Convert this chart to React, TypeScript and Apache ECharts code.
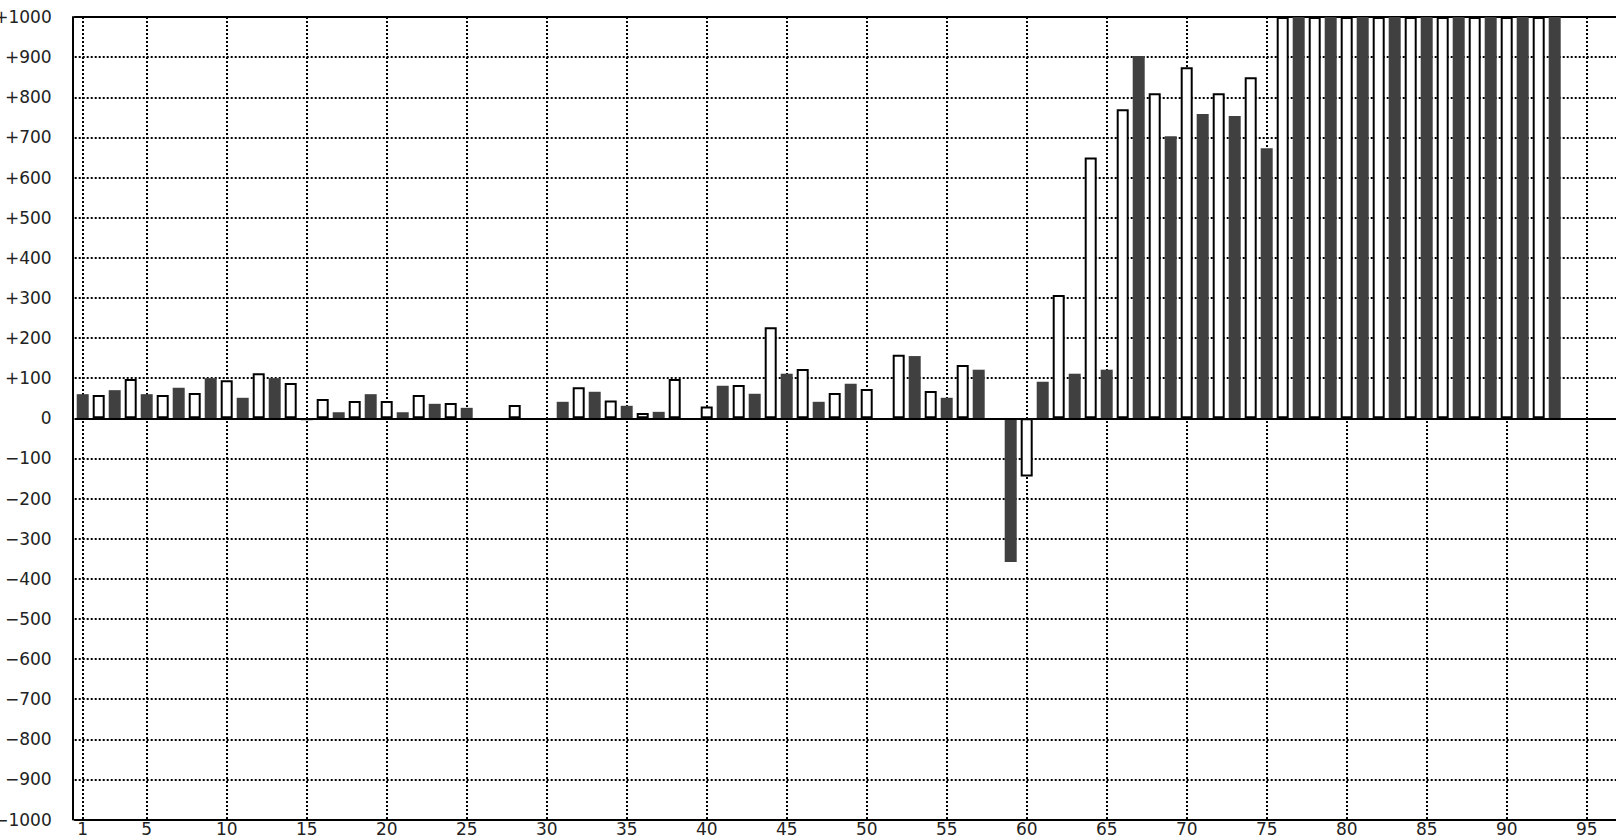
import React, { useEffect, useRef } from "react";
import * as echarts from "echarts";

// categories 1..97 (x axis)
const categories = [
  "1","2","3","4","5","6","7","8","9","10",
  "11","12","13","14","15","16","17","18","19","20",
  "21","22","23","24","25","26","27","28","29","30",
  "31","32","33","34","35","36","37","38","39","40",
  "41","42","43","44","45","46","47","48","49","50",
  "51","52","53","54","55","56","57","58","59","60",
  "61","62","63","64","65","66","67","68","69","70",
  "71","72","73","74","75","76","77","78","79","80",
  "81","82","83","84","85","86","87","88","89","90",
  "91","92","93","94","95","96","97",
];

// dark bars: odd categories 1,3,5,...,97
const darkValues = [
  60, 70, 60, 76, 100, 51, 100, -5, 15, 60,
  15, 36, 26, null, null, 41, 66, 31, 16, null,
  81, 61, 111, 41, 86, null, 155, 51, 121, -358,
  91, 111, 121, 903, 703, 758, 753, 673, 1000, 1000,
  1000, 1000, 1000, 1000, 1000, 1000, 1000, null, null,
];

// white bars: even categories 2,4,6,...,96
const whiteValues = [
  58, 98, 58, 63, 95, 112, 88, 48, 43, 43,
  58, 38, null, 33, null, 77, 44, 13, 98, 29,
  83, 227, 123, 63, 73, 158, 68, 133, null, -145,
  307, 650, 770, 810, 875, 810, 850, 1000, 1000, 1000,
  1000, 1000, 1000, 1000, 1000, 1000, null, null,
];

// category labels / vertical grid lines shown
const shownTicks = ["1", "5", "10", "15", "20", "25", "30", "35", "40", "45", "50",
  "55", "60", "65", "70", "75", "80", "85", "90", "95"];

const Y_MIN = -1000;
const Y_MAX = 1000;
const Y_STEP = 100;

export default function App() {
  const ref = useRef<HTMLDivElement>(null);

  useEffect(() => {
    if (!ref.current) return;
    const chart = echarts.init(ref.current, null, { renderer: "svg" });

    const darkFull = categories.map((c, i) => {
      const n = i + 1;
      if (n % 2 === 1) {
        const v = darkValues[(n - 1) / 2];
        return v === null || v === undefined ? "-" : v;
      }
      return "-";
    });
    const whiteFull = categories.map((c, i) => {
      const n = i + 1;
      if (n % 2 === 0) {
        const v = whiteValues[n / 2 - 1];
        return v === null || v === undefined ? "-" : v;
      }
      return "-";
    });

    const tickFilter = (_idx: number, val: string) => shownTicks.indexOf(String(val)) >= 0;
    const dotted = { color: "#000", width: 2, type: [2, 2] as any };
    const font = { fontFamily: "DejaVu Sans", fontSize: 17, color: "#222" };

    chart.setOption({
      animation: false,
      backgroundColor: "#fff",
      grid: {
        left: 74.7,
        right: -10.7,
        top: 17,
        bottom: 20.5,
        containLabel: false,
        outerBoundsMode: "none",
      },
      xAxis: [
        {
          type: "category",
          data: categories,
          position: "bottom",
          boundaryGap: true,
          axisLine: { show: true, onZero: false, lineStyle: { color: "#000", width: 2 } },
          axisTick: { show: false },
          axisLabel: { interval: tickFilter, margin: 1, hideOverlap: false, ...font },
          splitLine: { show: true, interval: tickFilter, alignWithLabel: true, lineStyle: dotted },
        },
        {
          type: "category",
          data: categories,
          position: "top",
          boundaryGap: true,
          axisLine: { show: true, onZero: false, lineStyle: { color: "#000", width: 2 } },
          axisTick: { show: false },
          axisLabel: { show: false },
          splitLine: { show: false },
        },
      ],
      yAxis: {
        type: "value",
        min: Y_MIN,
        max: Y_MAX,
        interval: Y_STEP,
        offset: 1.7,
        axisLine: { show: true, onZero: false, lineStyle: { color: "#000", width: 2 } },
        axisTick: { show: false },
        axisLabel: {
          margin: 21.3,
          hideOverlap: false,
          showMinLabel: true,
          showMaxLabel: true,
          ...font,
          formatter: (v: number) => (v > 0 ? "+" + v : v < 0 ? "\u2212" + Math.abs(v) : "0"),
        },
        splitLine: { show: true, lineStyle: dotted },
      },
      series: [
        {
          type: "bar",
          name: "dark",
          xAxisIndex: 0,
          data: darkFull,
          barWidth: 12,
          barGap: "-100%",
          itemStyle: { color: "#404040" },
        },
        {
          type: "bar",
          name: "white",
          xAxisIndex: 0,
          data: whiteFull,
          barWidth: 12,
          barGap: "-100%",
          itemStyle: { color: "#fff", borderColor: "#000", borderWidth: 2 },
          markLine: {
            silent: true,
            symbol: "none",
            label: { show: false },
            lineStyle: { color: "#000", width: 2, type: "solid" },
            data: [{ yAxis: 0 }],
          },
        },
      ],
    });

    return () => chart.dispose();
  }, []);

  return (
    <div
      ref={ref}
      style={{ position: "fixed", left: 0, top: 0, width: "1616px", height: "840px" }}
    />
  );
}
